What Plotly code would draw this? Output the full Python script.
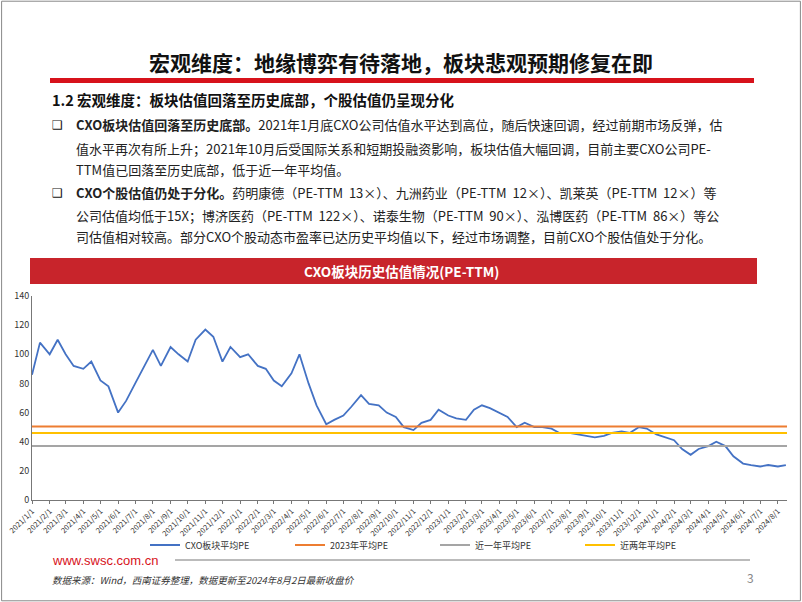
import plotly.graph_objects as go
import pandas as pd

# semi-monthly readings of CXO sector PE-TTM, 2021-01-01 .. 2024-08-01
pe_values = [86, 108, 100, 110, 100, 92, 90, 95, 82, 78, 60, 68, 80, 90, 103, 92,
             105, 100, 95, 110, 117, 112, 95, 105, 98, 100, 92, 90, 82, 78, 87, 100,
             80, 65, 52, 55, 58, 64, 72, 66, 65, 60, 57, 50, 48, 53, 55, 62,
             58, 56, 55, 62, 65, 63, 60, 57, 50, 53, 50, 50, 49, 46, 46, 45,
             44, 43, 44, 46, 47, 46, 50, 49, 45, 43, 41, 35, 31, 35, 37, 40,
             37, 30, 25, 24, 23, 24, 23, 24]
pe_dates = list(pd.date_range("2021-01-01", periods=len(pe_values), freq="SMS"))
avg_2023 = 50.5
avg_1y = 37
avg_2y = 46
tick_dates = list(pd.date_range("2021-01-01", "2024-08-01", freq="MS"))
tick_labels = [f"{d.year}/{d.month}/1" for d in tick_dates]
y_ticks = [0, 20, 40, 60, 80, 100, 120, 140]

F = "Noto Sans CJK SC"
fig = go.Figure()
fig.add_trace(go.Scatter(x=pe_dates, y=pe_values, mode="lines", name="CXO板块平均PE",
                         line=dict(color="#4472C4", width=1.8)))
span = [tick_dates[0], pe_dates[-1] + pd.Timedelta(days=2)]
fig.add_trace(go.Scatter(x=span, y=[avg_2023] * 2, mode="lines", name="2023年平均PE",
                         line=dict(color="#ED7D31", width=2)))
fig.add_trace(go.Scatter(x=span, y=[avg_1y] * 2, mode="lines", name="近一年平均PE",
                         line=dict(color="#A5A5A5", width=2)))
fig.add_trace(go.Scatter(x=span, y=[avg_2y] * 2, mode="lines", name="近两年平均PE",
                         line=dict(color="#FFC000", width=2)))

W, H = 802, 602
fig.update_layout(
    width=W, height=H, autosize=False, margin=dict(l=0, r=0, t=0, b=0, autoexpand=False),
    paper_bgcolor="white", plot_bgcolor="white", font=dict(family=F, color="#222"),
    showlegend=True,
    legend=dict(orientation="h", x=145 / W, xanchor="left", y=(H - 545) / H, yanchor="middle",
                bgcolor="rgba(0,0,0,0)",
                font=dict(size=9, color="#333"), entrywidth=100, entrywidthmode="pixels", itemwidth=30),
    xaxis=dict(domain=[32 / W, 787 / W], range=span, tickvals=tick_dates, ticktext=tick_labels,
               tickangle=-45, tickfont=dict(size=7.5, color="#333"), showgrid=False, automargin=False,
               showline=True, linecolor="#777", ticks="outside", ticklen=3, tickcolor="#777"),
    yaxis=dict(domain=[(H - 500) / H, (H - 296) / H], range=[0, 140], tickvals=y_ticks, automargin=False,
               tickfont=dict(size=9, color="#333"), showgrid=False, showline=True,
               linecolor="#777", zeroline=False),
)

shapes = [
    dict(type="rect", xref="paper", yref="paper", x0=0.002, x1=0.998, y0=0.002, y1=0.998,
         line=dict(color="#888", width=1)),
    dict(type="rect", xref="paper", yref="paper", x0=50 / W, x1=754 / W,
         y0=1 - 83 / H, y1=1 - 78 / H, fillcolor="#D7121B", line=dict(width=0)),
    dict(type="rect", xref="paper", yref="paper", x0=30 / W, x1=757 / W,
         y0=1 - 284 / H, y1=1 - 258 / H, fillcolor="#C8242B", line=dict(width=0)),
    dict(type="line", xref="paper", yref="paper", x0=175 / W, x1=750 / W,
         y0=1 - 560 / H, y1=1 - 560 / H, line=dict(color="#BBB", width=2)),
]
fig.update_layout(shapes=shapes)

def ann(x, y, text, size, color="#222", bold=False, xanchor="left", italic=False, family=F):
    t = f"<b>{text}</b>" if bold else text
    if italic:
        t = f"<i>{t}</i>"
    fig.add_annotation(x=x / W, y=1 - y / H, xref="paper", yref="paper", text=t, showarrow=False,
                       xanchor=xanchor, yanchor="middle", align="left",
                       font=dict(size=size, color=color, family=family))

ann(401, 62, "宏观维度：地缘博弈有待落地，板块悲观预期修复在即", 21, "#111", True, "center")
ann(50, 100, "1.2 宏观维度：板块估值回落至历史底部，个股估值仍呈现分化", 14.5, "#111", True)
ann(50, 125, "❑", 12, "#111", family="DejaVu Sans")
ann(50, 193, "❑", 12, "#111", family="DejaVu Sans")
ann(74, 125, "<b>CXO板块估值回落至历史底部。</b>2021年1月底CXO公司估值水平达到高位，随后快速回调，经过前期市场反弹，估", 13)
ann(74, 148, "值水平再次有所上升；2021年10月后受国际关系和短期投融资影响，板块估值大幅回调，目前主要CXO公司PE-", 13)
ann(74, 170, "TTM值已回落至历史底部，低于近一年平均值。", 13)
ann(74, 193, "<b>CXO个股估值仍处于分化。</b>药明康德（PE-TTM  13×）、九洲药业（PE-TTM  12×）、凯莱英（PE-TTM  12×）等", 13)
ann(74, 215, "公司估值均低于15X；博济医药（PE-TTM  122×）、诺泰生物（PE-TTM  90×）、泓博医药（PE-TTM  86×）等公", 13)
ann(74, 237, "司估值相对较高。部分CXO个股动态市盈率已达历史平均值以下，经过市场调整，目前CXO个股估值处于分化。", 13)
ann(401, 271, "CXO板块历史估值情况(PE-TTM)", 13.5, "white", True, "center")
ann(50, 560, "www.swsc.com.cn", 13, "#D7121B", family="Arial")
ann(50, 580, "数据来源：Wind，西南证券整理，数据更新至2024年8月2日最新收盘价", 9.5, "#333", italic=True)
ann(750, 577, "3", 12, "#888", xanchor="center")

fig.write_html("out.html", config={"displayModeBar": False},
               post_script="document.body.style.margin='0';document.body.style.overflow='hidden';")
